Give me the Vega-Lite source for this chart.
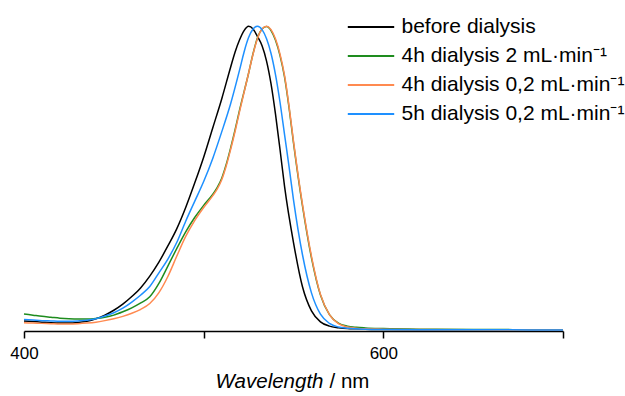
{
  "$schema": "https://vega.github.io/schema/vega-lite/v6.json",
  "width": 539,
  "height": 305,
  "autosize": {"type": "none"},
  "padding": {"left": 24, "top": 26, "right": 62, "bottom": 65},
  "background": "white",
  "config": {
    "view": {"stroke": null},
    "font": "Liberation Sans",
    "text": {"font": "Liberation Sans"}
  },
  "datasets": {
    "spectra": [
      {"w":400,"s":"before dialysis","a":0.033},{"w":405,"s":"before dialysis","a":0.031},{"w":410,"s":"before dialysis","a":0.029},{"w":415,"s":"before dialysis","a":0.027},{"w":420,"s":"before dialysis","a":0.026},{"w":425,"s":"before dialysis","a":0.026},{"w":430,"s":"before dialysis","a":0.028},{"w":435,"s":"before dialysis","a":0.032},{"w":440,"s":"before dialysis","a":0.040},{"w":445,"s":"before dialysis","a":0.052},{"w":450,"s":"before dialysis","a":0.068},{"w":455,"s":"before dialysis","a":0.088},{"w":460,"s":"before dialysis","a":0.113},{"w":465,"s":"before dialysis","a":0.142},{"w":470,"s":"before dialysis","a":0.180},{"w":475,"s":"before dialysis","a":0.225},{"w":480,"s":"before dialysis","a":0.278},{"w":485,"s":"before dialysis","a":0.335},{"w":490,"s":"before dialysis","a":0.405},{"w":495,"s":"before dialysis","a":0.485},{"w":500,"s":"before dialysis","a":0.570},{"w":505,"s":"before dialysis","a":0.665},{"w":510,"s":"before dialysis","a":0.760},{"w":515,"s":"before dialysis","a":0.865},{"w":517.5,"s":"before dialysis","a":0.915},{"w":520,"s":"before dialysis","a":0.955},{"w":522.5,"s":"before dialysis","a":0.985},{"w":525,"s":"before dialysis","a":0.999},{"w":527.5,"s":"before dialysis","a":0.990},{"w":530,"s":"before dialysis","a":0.965},{"w":532.5,"s":"before dialysis","a":0.935},{"w":535,"s":"before dialysis","a":0.885},{"w":537.5,"s":"before dialysis","a":0.810},{"w":540,"s":"before dialysis","a":0.710},{"w":542.5,"s":"before dialysis","a":0.595},{"w":545,"s":"before dialysis","a":0.475},{"w":550,"s":"before dialysis","a":0.290},{"w":555,"s":"before dialysis","a":0.145},{"w":560,"s":"before dialysis","a":0.066},{"w":565,"s":"before dialysis","a":0.030},{"w":570,"s":"before dialysis","a":0.016},{"w":575,"s":"before dialysis","a":0.011},{"w":580,"s":"before dialysis","a":0.008},{"w":585,"s":"before dialysis","a":0.007},{"w":590,"s":"before dialysis","a":0.006},{"w":600,"s":"before dialysis","a":0.005},{"w":620,"s":"before dialysis","a":0.004},{"w":650,"s":"before dialysis","a":0.004},{"w":700,"s":"before dialysis","a":0.003},

      {"w":400,"s":"4h dialysis 2 mL·min⁻¹","a":0.056},{"w":405,"s":"4h dialysis 2 mL·min⁻¹","a":0.052},{"w":410,"s":"4h dialysis 2 mL·min⁻¹","a":0.048},{"w":415,"s":"4h dialysis 2 mL·min⁻¹","a":0.045},{"w":420,"s":"4h dialysis 2 mL·min⁻¹","a":0.042},{"w":425,"s":"4h dialysis 2 mL·min⁻¹","a":0.040},{"w":430,"s":"4h dialysis 2 mL·min⁻¹","a":0.039},{"w":435,"s":"4h dialysis 2 mL·min⁻¹","a":0.039},{"w":440,"s":"4h dialysis 2 mL·min⁻¹","a":0.041},{"w":445,"s":"4h dialysis 2 mL·min⁻¹","a":0.045},{"w":450,"s":"4h dialysis 2 mL·min⁻¹","a":0.052},{"w":455,"s":"4h dialysis 2 mL·min⁻¹","a":0.063},{"w":460,"s":"4h dialysis 2 mL·min⁻¹","a":0.076},{"w":465,"s":"4h dialysis 2 mL·min⁻¹","a":0.092},{"w":470,"s":"4h dialysis 2 mL·min⁻¹","a":0.112},{"w":475,"s":"4h dialysis 2 mL·min⁻¹","a":0.155},{"w":480,"s":"4h dialysis 2 mL·min⁻¹","a":0.212},{"w":485,"s":"4h dialysis 2 mL·min⁻¹","a":0.270},{"w":490,"s":"4h dialysis 2 mL·min⁻¹","a":0.325},{"w":495,"s":"4h dialysis 2 mL·min⁻¹","a":0.372},{"w":500,"s":"4h dialysis 2 mL·min⁻¹","a":0.412},{"w":505,"s":"4h dialysis 2 mL·min⁻¹","a":0.448},{"w":507.5,"s":"4h dialysis 2 mL·min⁻¹","a":0.470},{"w":510,"s":"4h dialysis 2 mL·min⁻¹","a":0.500},{"w":512.5,"s":"4h dialysis 2 mL·min⁻¹","a":0.545},{"w":515,"s":"4h dialysis 2 mL·min⁻¹","a":0.600},{"w":517.5,"s":"4h dialysis 2 mL·min⁻¹","a":0.660},{"w":520,"s":"4h dialysis 2 mL·min⁻¹","a":0.725},{"w":525,"s":"4h dialysis 2 mL·min⁻¹","a":0.845},{"w":527.5,"s":"4h dialysis 2 mL·min⁻¹","a":0.910},{"w":530,"s":"4h dialysis 2 mL·min⁻¹","a":0.962},{"w":532.5,"s":"4h dialysis 2 mL·min⁻¹","a":0.990},{"w":535,"s":"4h dialysis 2 mL·min⁻¹","a":0.998},{"w":537.5,"s":"4h dialysis 2 mL·min⁻¹","a":0.985},{"w":540,"s":"4h dialysis 2 mL·min⁻¹","a":0.953},{"w":542.5,"s":"4h dialysis 2 mL·min⁻¹","a":0.903},{"w":545,"s":"4h dialysis 2 mL·min⁻¹","a":0.833},{"w":547.5,"s":"4h dialysis 2 mL·min⁻¹","a":0.733},{"w":550,"s":"4h dialysis 2 mL·min⁻¹","a":0.617},{"w":555,"s":"4h dialysis 2 mL·min⁻¹","a":0.410},{"w":560,"s":"4h dialysis 2 mL·min⁻¹","a":0.240},{"w":565,"s":"4h dialysis 2 mL·min⁻¹","a":0.118},{"w":570,"s":"4h dialysis 2 mL·min⁻¹","a":0.054},{"w":575,"s":"4h dialysis 2 mL·min⁻¹","a":0.026},{"w":580,"s":"4h dialysis 2 mL·min⁻¹","a":0.016},{"w":585,"s":"4h dialysis 2 mL·min⁻¹","a":0.012},{"w":590,"s":"4h dialysis 2 mL·min⁻¹","a":0.010},{"w":600,"s":"4h dialysis 2 mL·min⁻¹","a":0.008},{"w":620,"s":"4h dialysis 2 mL·min⁻¹","a":0.006},{"w":650,"s":"4h dialysis 2 mL·min⁻¹","a":0.005},{"w":700,"s":"4h dialysis 2 mL·min⁻¹","a":0.004},

      {"w":400,"s":"4h dialysis 0,2 mL·min⁻¹","a":0.027},{"w":405,"s":"4h dialysis 0,2 mL·min⁻¹","a":0.026},{"w":410,"s":"4h dialysis 0,2 mL·min⁻¹","a":0.025},{"w":415,"s":"4h dialysis 0,2 mL·min⁻¹","a":0.024},{"w":420,"s":"4h dialysis 0,2 mL·min⁻¹","a":0.023},{"w":425,"s":"4h dialysis 0,2 mL·min⁻¹","a":0.023},{"w":430,"s":"4h dialysis 0,2 mL·min⁻¹","a":0.024},{"w":435,"s":"4h dialysis 0,2 mL·min⁻¹","a":0.026},{"w":440,"s":"4h dialysis 0,2 mL·min⁻¹","a":0.029},{"w":445,"s":"4h dialysis 0,2 mL·min⁻¹","a":0.034},{"w":450,"s":"4h dialysis 0,2 mL·min⁻¹","a":0.040},{"w":455,"s":"4h dialysis 0,2 mL·min⁻¹","a":0.048},{"w":460,"s":"4h dialysis 0,2 mL·min⁻¹","a":0.058},{"w":465,"s":"4h dialysis 0,2 mL·min⁻¹","a":0.071},{"w":470,"s":"4h dialysis 0,2 mL·min⁻¹","a":0.090},{"w":475,"s":"4h dialysis 0,2 mL·min⁻¹","a":0.125},{"w":480,"s":"4h dialysis 0,2 mL·min⁻¹","a":0.178},{"w":485,"s":"4h dialysis 0,2 mL·min⁻¹","a":0.245},{"w":490,"s":"4h dialysis 0,2 mL·min⁻¹","a":0.310},{"w":495,"s":"4h dialysis 0,2 mL·min⁻¹","a":0.362},{"w":500,"s":"4h dialysis 0,2 mL·min⁻¹","a":0.405},{"w":505,"s":"4h dialysis 0,2 mL·min⁻¹","a":0.443},{"w":507.5,"s":"4h dialysis 0,2 mL·min⁻¹","a":0.465},{"w":510,"s":"4h dialysis 0,2 mL·min⁻¹","a":0.495},{"w":512.5,"s":"4h dialysis 0,2 mL·min⁻¹","a":0.540},{"w":515,"s":"4h dialysis 0,2 mL·min⁻¹","a":0.595},{"w":517.5,"s":"4h dialysis 0,2 mL·min⁻¹","a":0.655},{"w":520,"s":"4h dialysis 0,2 mL·min⁻¹","a":0.720},{"w":525,"s":"4h dialysis 0,2 mL·min⁻¹","a":0.845},{"w":527.5,"s":"4h dialysis 0,2 mL·min⁻¹","a":0.908},{"w":530,"s":"4h dialysis 0,2 mL·min⁻¹","a":0.960},{"w":532.5,"s":"4h dialysis 0,2 mL·min⁻¹","a":0.990},{"w":535,"s":"4h dialysis 0,2 mL·min⁻¹","a":0.999},{"w":537.5,"s":"4h dialysis 0,2 mL·min⁻¹","a":0.988},{"w":540,"s":"4h dialysis 0,2 mL·min⁻¹","a":0.957},{"w":542.5,"s":"4h dialysis 0,2 mL·min⁻¹","a":0.908},{"w":545,"s":"4h dialysis 0,2 mL·min⁻¹","a":0.838},{"w":547.5,"s":"4h dialysis 0,2 mL·min⁻¹","a":0.738},{"w":550,"s":"4h dialysis 0,2 mL·min⁻¹","a":0.622},{"w":555,"s":"4h dialysis 0,2 mL·min⁻¹","a":0.415},{"w":560,"s":"4h dialysis 0,2 mL·min⁻¹","a":0.245},{"w":565,"s":"4h dialysis 0,2 mL·min⁻¹","a":0.120},{"w":570,"s":"4h dialysis 0,2 mL·min⁻¹","a":0.054},{"w":575,"s":"4h dialysis 0,2 mL·min⁻¹","a":0.024},{"w":580,"s":"4h dialysis 0,2 mL·min⁻¹","a":0.013},{"w":585,"s":"4h dialysis 0,2 mL·min⁻¹","a":0.009},{"w":590,"s":"4h dialysis 0,2 mL·min⁻¹","a":0.007},{"w":600,"s":"4h dialysis 0,2 mL·min⁻¹","a":0.006},{"w":620,"s":"4h dialysis 0,2 mL·min⁻¹","a":0.005},{"w":650,"s":"4h dialysis 0,2 mL·min⁻¹","a":0.004},{"w":700,"s":"4h dialysis 0,2 mL·min⁻¹","a":0.003},

      {"w":400,"s":"5h dialysis 0,2 mL·min⁻¹","a":0.038},{"w":405,"s":"5h dialysis 0,2 mL·min⁻¹","a":0.036},{"w":410,"s":"5h dialysis 0,2 mL·min⁻¹","a":0.034},{"w":415,"s":"5h dialysis 0,2 mL·min⁻¹","a":0.033},{"w":420,"s":"5h dialysis 0,2 mL·min⁻¹","a":0.032},{"w":425,"s":"5h dialysis 0,2 mL·min⁻¹","a":0.032},{"w":430,"s":"5h dialysis 0,2 mL·min⁻¹","a":0.033},{"w":435,"s":"5h dialysis 0,2 mL·min⁻¹","a":0.035},{"w":440,"s":"5h dialysis 0,2 mL·min⁻¹","a":0.040},{"w":445,"s":"5h dialysis 0,2 mL·min⁻¹","a":0.049},{"w":450,"s":"5h dialysis 0,2 mL·min⁻¹","a":0.060},{"w":455,"s":"5h dialysis 0,2 mL·min⁻¹","a":0.075},{"w":460,"s":"5h dialysis 0,2 mL·min⁻¹","a":0.095},{"w":465,"s":"5h dialysis 0,2 mL·min⁻¹","a":0.118},{"w":470,"s":"5h dialysis 0,2 mL·min⁻¹","a":0.146},{"w":475,"s":"5h dialysis 0,2 mL·min⁻¹","a":0.190},{"w":480,"s":"5h dialysis 0,2 mL·min⁻¹","a":0.235},{"w":485,"s":"5h dialysis 0,2 mL·min⁻¹","a":0.290},{"w":490,"s":"5h dialysis 0,2 mL·min⁻¹","a":0.360},{"w":495,"s":"5h dialysis 0,2 mL·min⁻¹","a":0.425},{"w":500,"s":"5h dialysis 0,2 mL·min⁻¹","a":0.490},{"w":505,"s":"5h dialysis 0,2 mL·min⁻¹","a":0.565},{"w":510,"s":"5h dialysis 0,2 mL·min⁻¹","a":0.652},{"w":515,"s":"5h dialysis 0,2 mL·min⁻¹","a":0.745},{"w":520,"s":"5h dialysis 0,2 mL·min⁻¹","a":0.856},{"w":522.5,"s":"5h dialysis 0,2 mL·min⁻¹","a":0.915},{"w":525,"s":"5h dialysis 0,2 mL·min⁻¹","a":0.962},{"w":527.5,"s":"5h dialysis 0,2 mL·min⁻¹","a":0.990},{"w":530,"s":"5h dialysis 0,2 mL·min⁻¹","a":0.999},{"w":532.5,"s":"5h dialysis 0,2 mL·min⁻¹","a":0.988},{"w":535,"s":"5h dialysis 0,2 mL·min⁻¹","a":0.958},{"w":537.5,"s":"5h dialysis 0,2 mL·min⁻¹","a":0.910},{"w":540,"s":"5h dialysis 0,2 mL·min⁻¹","a":0.840},{"w":542.5,"s":"5h dialysis 0,2 mL·min⁻¹","a":0.750},{"w":545,"s":"5h dialysis 0,2 mL·min⁻¹","a":0.645},{"w":547.5,"s":"5h dialysis 0,2 mL·min⁻¹","a":0.540},{"w":550,"s":"5h dialysis 0,2 mL·min⁻¹","a":0.430},{"w":555,"s":"5h dialysis 0,2 mL·min⁻¹","a":0.250},{"w":560,"s":"5h dialysis 0,2 mL·min⁻¹","a":0.125},{"w":565,"s":"5h dialysis 0,2 mL·min⁻¹","a":0.055},{"w":570,"s":"5h dialysis 0,2 mL·min⁻¹","a":0.025},{"w":575,"s":"5h dialysis 0,2 mL·min⁻¹","a":0.013},{"w":580,"s":"5h dialysis 0,2 mL·min⁻¹","a":0.009},{"w":585,"s":"5h dialysis 0,2 mL·min⁻¹","a":0.007},{"w":590,"s":"5h dialysis 0,2 mL·min⁻¹","a":0.006},{"w":600,"s":"5h dialysis 0,2 mL·min⁻¹","a":0.005},{"w":620,"s":"5h dialysis 0,2 mL·min⁻¹","a":0.004},{"w":650,"s":"5h dialysis 0,2 mL·min⁻¹","a":0.004},{"w":700,"s":"5h dialysis 0,2 mL·min⁻¹","a":0.003}
    ],
    "axistitle": [
      {"part": "Wavelength", "w": 566.7}
    ]
  },
  "layer": [
    {
      "data": {"name": "spectra"},
      "mark": {"type": "line", "strokeWidth": 1.5, "interpolate": "monotone"},
      "encoding": {
        "x": {
          "field": "w", "type": "quantitative",
          "scale": {"domain": [400, 700], "nice": false, "zero": false},
          "axis": {
            "title": null,
            "values": [400, 500, 600, 700],
            "labelExpr": "datum.value % 200 == 0 ? datum.label : ''",
            "grid": false,
            "domainColor": "#000000", "domainWidth": 1.5,
            "tickColor": "#000000", "tickWidth": 1.5, "tickSize": 7,
            "labelColor": "#000000", "labelFontSize": 17, "labelFont": "Liberation Sans",
            "labelPadding": 7, "labelFlush": false
          }
        },
        "y": {
          "field": "a", "type": "quantitative",
          "scale": {"domain": [0, 1], "nice": false},
          "axis": null
        },
        "color": {
          "field": "s", "type": "nominal",
          "scale": {
            "domain": ["before dialysis", "4h dialysis 2 mL·min⁻¹", "4h dialysis 0,2 mL·min⁻¹", "5h dialysis 0,2 mL·min⁻¹"],
            "range": ["#000000", "#1e8c1e", "#ff8a50", "#1e90ff"]
          },
          "legend": {
            "title": null,
            "orient": "none",
            "legendX": 322.5,
            "legendY": -13.5,
            "symbolType": "M-1.6,0H1.6",
            "symbolSize": 841,
            "symbolOffset": 9,
            "symbolStrokeWidth": 2,
            "symbolFillColor": "transparent",
            "clipHeight": 29,
            "labelFontSize": 21,
            "labelFont": "Liberation Sans",
            "labelColor": "#000000",
            "labelOffset": 15,
            "labelLimit": 400,
            "rowPadding": 0
          }
        },
        "order": {"field": "w", "type": "quantitative"}
      }
    },
    {
      "data": {"name": "axistitle"},
      "mark": {"type": "text", "align": "right", "baseline": "middle", "fontSize": 20.5, "fontStyle": "italic", "font": "Liberation Sans", "color": "#000000", "clip": false},
      "encoding": {
        "x": {"field": "w", "type": "quantitative"},
        "y": {"datum": -0.167},
        "text": {"field": "part"}
      }
    },
    {
      "data": {"name": "axistitle"},
      "mark": {"type": "text", "align": "left", "baseline": "middle", "dx": 6, "fontSize": 20.5, "font": "Liberation Sans", "color": "#000000", "clip": false},
      "encoding": {
        "x": {"field": "w", "type": "quantitative"},
        "y": {"datum": -0.167},
        "text": {"value": "/ nm"}
      }
    }
  ]
}
